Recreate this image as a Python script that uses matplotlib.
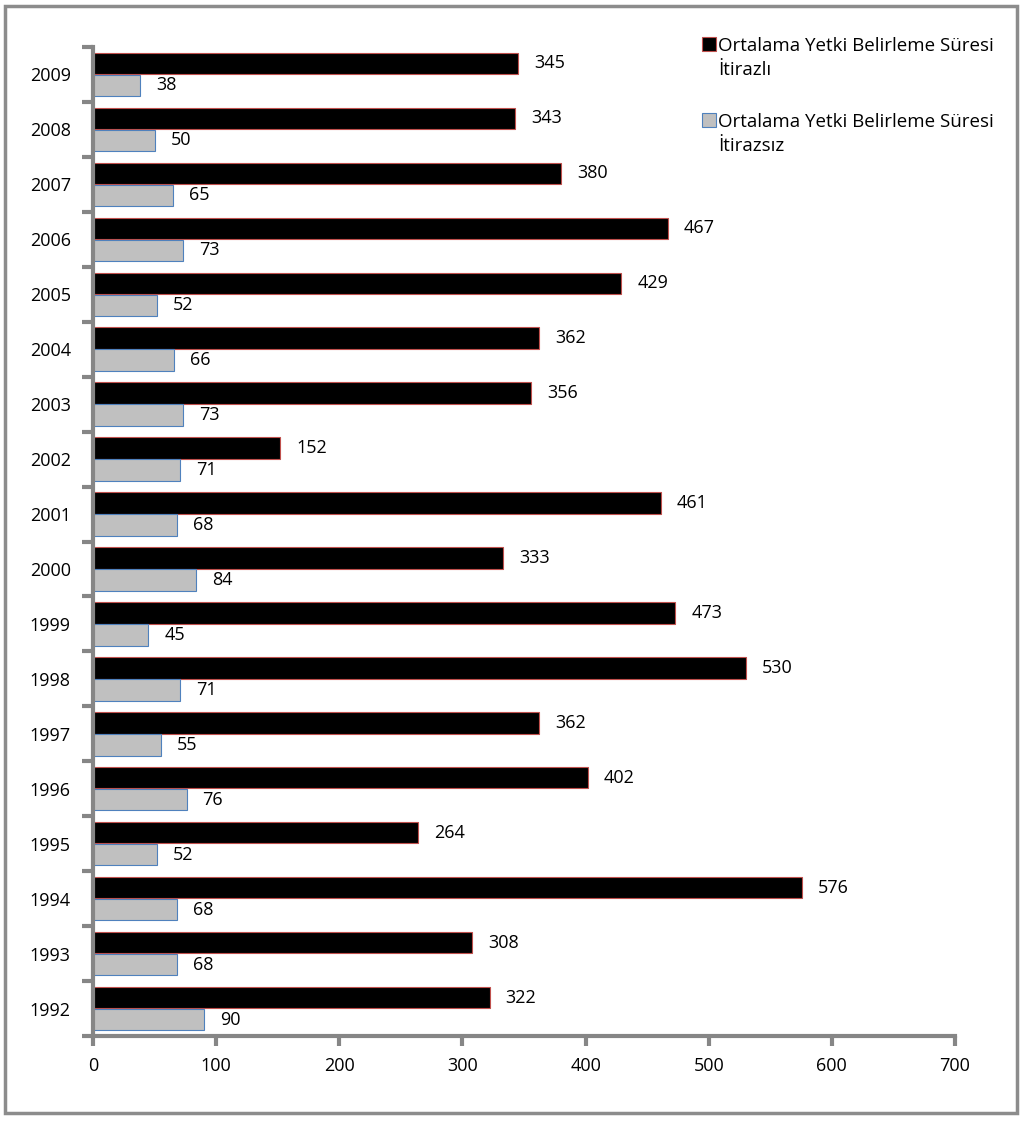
import numpy as np
import matplotlib.pyplot as plt
from matplotlib.patches import Rectangle

plt.rcParams['font.family'] = ['Open Sans', 'DejaVu Sans']

years = [1992, 1993, 1994, 1995, 1996, 1997, 1998, 1999, 2000,
         2001, 2002, 2003, 2004, 2005, 2006, 2007, 2008, 2009]
itirazli = [322, 308, 576, 264, 402, 362, 530, 473, 333,
            461, 152, 356, 362, 429, 467, 380, 343, 345]
itirazsiz = [90, 68, 68, 52, 76, 55, 71, 45, 84,
             68, 71, 73, 66, 52, 73, 65, 50, 38]
label_1 = 'Ortalama Yetki Belirleme Süresi\nİtirazlı'
label_2 = 'Ortalama Yetki Belirleme Süresi\nİtirazsız'

W, H = 1024, 1126
fig = plt.figure(figsize=(W / 100, H / 100), dpi=100)
ax = fig.add_axes([93 / W, 1 - 1036 / H, (955 - 93) / W, (1036 - 47) / H])

y = np.arange(len(years))
h = 0.39

# black bar on top, grey bar below within each year
ax.barh(y + 0.2, itirazli, height=h, color='black',
        edgecolor='#c0504d', linewidth=0.8)
ax.barh(y - 0.2, itirazsiz, height=h, color='#c0c0c0',
        edgecolor='#4f81bd', linewidth=0.8)

for yy, v in zip(y, itirazli):
    ax.text(v + 13, yy + 0.2, str(v), va='center', ha='left', fontsize=13)
for yy, v in zip(y, itirazsiz):
    ax.text(v + 13, yy - 0.2, str(v), va='center', ha='left', fontsize=13)

ax.set_xlim(0, 700)
ax.set_ylim(-0.5, len(years) - 0.5)
ax.set_xticks(np.arange(0, 701, 100))
ax.set_yticks(y)
ax.set_yticklabels([str(v) for v in years])
ax.set_yticks(np.arange(-0.5, len(years), 1), minor=True)

for s in ['top', 'right']:
    ax.spines[s].set_visible(False)
for s in ['left', 'bottom']:
    ax.spines[s].set_color('#868686')
    ax.spines[s].set_linewidth(3)

ax.tick_params(axis='y', which='major', length=0, labelsize=13, pad=16)
ax.tick_params(axis='y', which='minor', length=8, width=3, color='#868686')
ax.tick_params(axis='x', length=7, width=3, color='#868686',
               labelsize=13, pad=8)

# legend drawn by hand: square marker next to first text line
legend_items = [(label_1, 'black', '#c0504d', 37),
                (label_2, '#c0c0c0', '#4f81bd', 113)]
for text, fc, ec, top in legend_items:
    fig.patches.append(Rectangle((702 / W, 1 - (top + 14) / H), 14 / W, 14 / H,
                                 transform=fig.transFigure, facecolor=fc,
                                 edgecolor=ec, linewidth=0.8))
    fig.text(718 / W, 1 - top / H, text, ha='left', va='top',
             fontsize=13.5, linespacing=1.45)

# outer frame
fig.patches.append(Rectangle((5 / W, 1 - 1113 / H), 1012 / W, 1107 / H,
                             transform=fig.transFigure, fill=False,
                             edgecolor='#8c8c8c', linewidth=2.5))

fig.savefig('out.png', dpi=100)
